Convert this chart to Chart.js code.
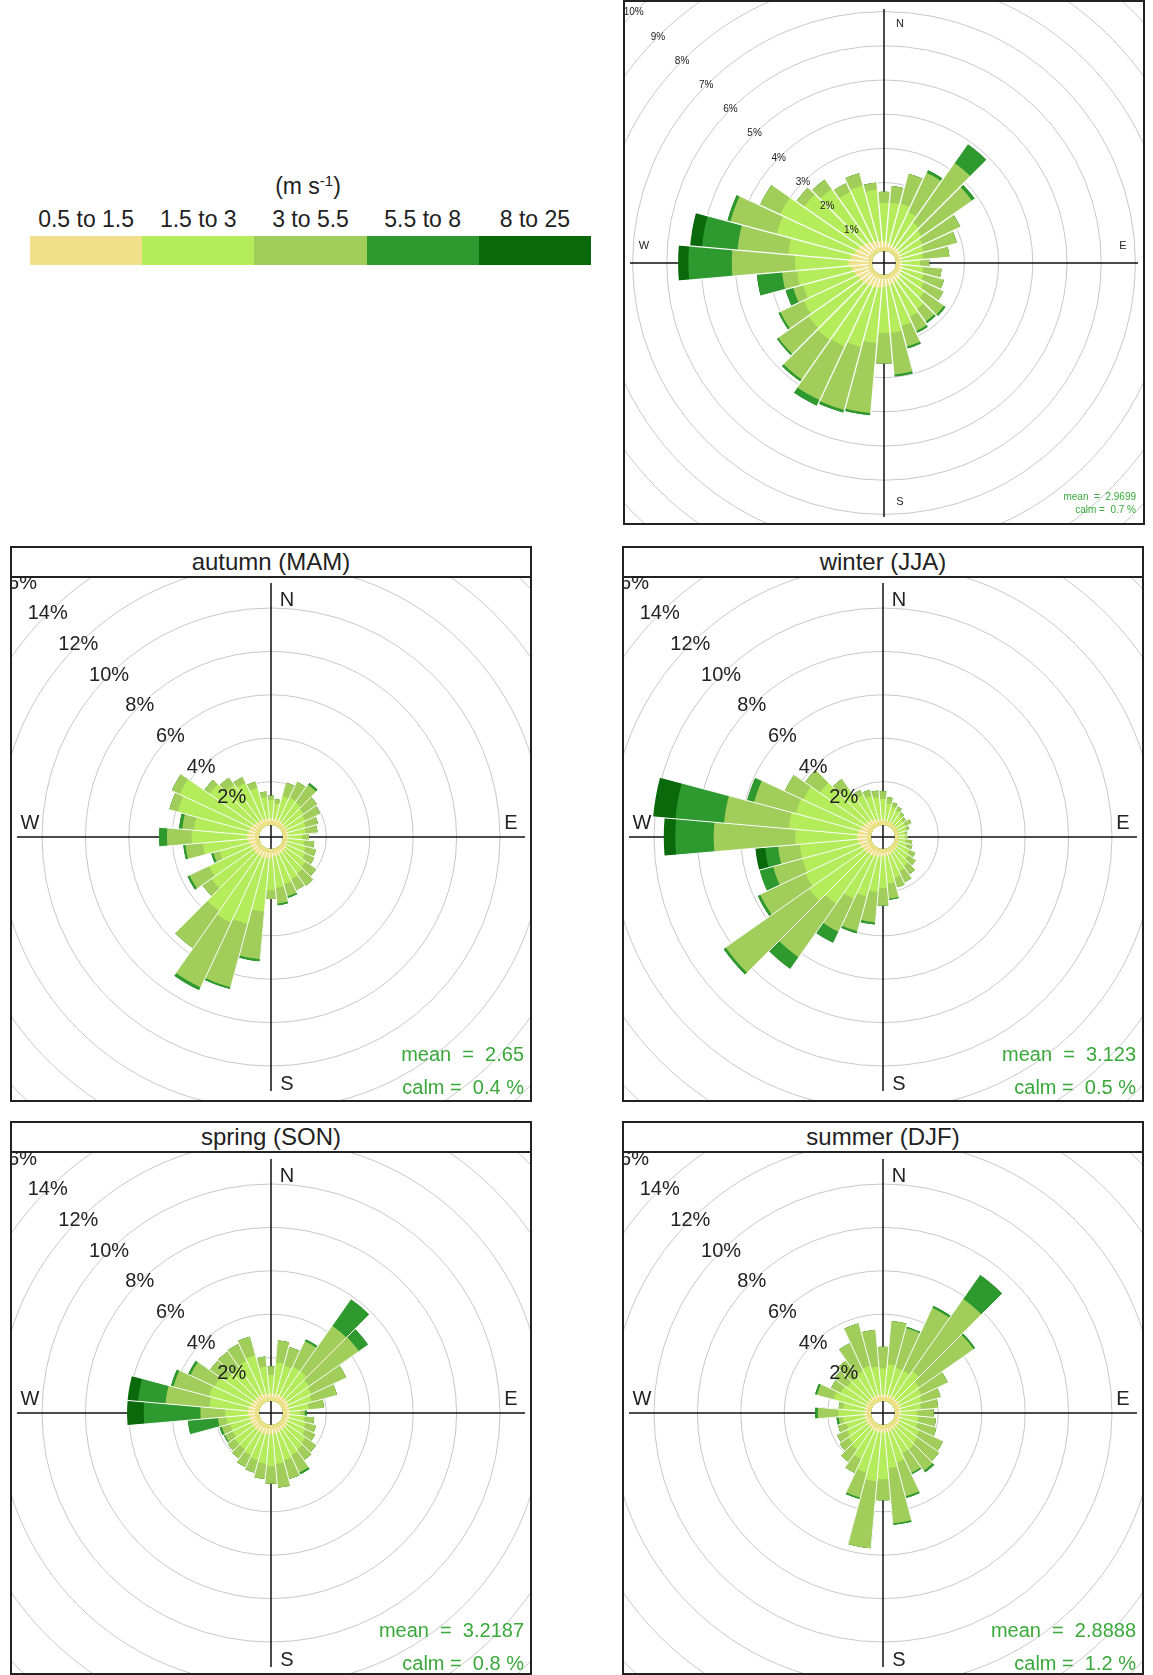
<!DOCTYPE html>
<html>
<head>
<meta charset="utf-8">
<title>Wind roses</title>
<script src="https://cdn.jsdelivr.net/npm/chart.js@4.4.1/dist/chart.umd.min.js"></script>
<style>
  body { margin: 0; width: 1153px; height: 1675px; overflow: hidden; background: #fff;
         font-family: "Liberation Sans", Arial, sans-serif; color: #222; position: relative; }
  .panel { position: absolute; box-sizing: border-box; border: 2px solid #222; background: #fff; }
  .ptitle { position: absolute; left: 0; top: 0; right: 0; box-sizing: border-box;
            border-bottom: 2px solid #222; text-align: center; font-size: 24px; }
  .plot { position: absolute; left: 0; overflow: hidden; }
  .plot canvas { position: absolute; }
  #legTitle { position: absolute; font-size: 23px; transform: translate(-50%, -50%); white-space: nowrap; }
  #legTitle sup { font-size: 15px; }
  .legLab { position: absolute; font-size: 23px; transform: translate(-50%, -50%); white-space: nowrap; }
  .legBox { position: absolute; }
</style>
</head>
<body>
<script>
Chart.defaults.font.family = '"Liberation Sans", Arial, sans-serif';

// speed bins (m/s) and their colours
const speedBins = ["0.5 to 1.5", "1.5 to 3", "3 to 5.5", "5.5 to 8", "8 to 25"];
const speedColors = ["#F0E08A", "#B5EC5B", "#A1CD5B", "#2E992E", "#0A690A"];

// 36 direction sectors, degrees from north
const directions = [0, 10, 20, 30, 40, 50, 60, 70, 80, 90, 100, 110, 120, 130, 140, 150, 160, 170,
                    180, 190, 200, 210, 220, 230, 240, 250, 260, 270, 280, 290, 300, 310, 320, 330, 340, 350];

const annualRings = [1, 2, 3, 4, 5, 6, 7, 8, 9, 10];
const seasonRings = [2, 4, 6, 8, 10, 12, 14, 16];

const panelTitles = [null, "autumn (MAM)", "winter (JJA)", "spring (SON)", "summer (DJF)"];
const meanSpeeds = ["2.9699", "2.65", "3.123", "3.2187", "2.8888"];
const calmPct = ["0.7", "0.4", "0.5", "0.8", "1.2"];

// frequency (%) per speed bin, all data
const annual1 = [0.27,0.25,0.22,0.20,0.20,0.20,0.18,0.18,0.17,0.17,0.18,0.20,0.22,0.24,0.26,0.28,0.30,0.32,0.34,0.38,0.40,0.42,0.45,0.47,0.50,0.55,0.60,0.69,0.62,0.55,0.50,0.45,0.40,0.35,0.32,0.30];
const annual2 = [1.13,1.17,1.23,1.10,0.90,0.80,0.72,0.67,0.63,0.53,0.62,0.65,0.73,0.86,1.04,1.12,1.25,1.38,1.36,1.62,1.80,1.93,1.95,1.88,1.75,1.55,1.60,1.56,1.84,2.35,2.50,2.05,1.90,1.60,1.68,1.50];
const annual3 = [0.33,0.49,0.91,1.27,2.13,1.80,1.22,1.01,0.77,0.27,0.54,0.62,0.62,0.70,0.45,0.45,0.63,1.22,0.89,2.05,1.90,1.73,1.42,1.08,0.75,0.30,0.44,1.85,1.49,1.40,0.65,0.28,0.34,0.28,0.37,0.21];
const annual4 = [0,0,0,0.08,0.67,0.10,0,0,0,0,0,0,0,0.06,0.06,0.06,0.06,0.06,0,0.07,0.08,0.18,0.07,0.05,0.06,0.23,0.74,1.27,1.04,0.09,0,0,0,0,0,0];
const annual5 = [0,0,0,0,0,0,0,0,0,0,0,0,0,0,0,0,0,0,0,0,0,0,0,0,0,0,0,0.30,0.35,0,0,0,0,0,0,0];

// autumn (MAM)
const autumn1 = [0.30,0.30,0.30,0.30,0.25,0.25,0.25,0.25,0.25,0.20,0.20,0.25,0.25,0.30,0.30,0.30,0.35,0.35,0.40,0.45,0.45,0.45,0.45,0.45,0.45,0.45,0.50,0.55,0.50,0.50,0.45,0.40,0.35,0.35,0.30,0.30];
const autumn2 = [0.85,0.70,1.10,1.15,1.15,1.05,0.95,0.85,0.80,0.70,0.80,0.85,0.95,1.10,1.20,1.30,1.35,1.45,1.50,2.45,3.15,3.35,3.15,2.35,2.15,1.45,2.10,2.55,2.50,3.40,3.65,2.50,2.05,1.85,1.50,1.00];
const autumn3 = [0.20,0.20,0.65,0.80,1.00,0.75,0.75,0.60,0.55,0.30,0.45,0.50,0.45,0.60,0.70,0.55,0.58,0.72,0.40,2.20,3.02,3.30,2.10,0.50,1.00,0.30,0.80,1.14,0.55,0.40,0.40,0.30,0.40,0.30,0.30,0.25];
const autumn4 = [0,0,0,0,0.10,0,0,0,0,0,0,0,0,0,0,0,0.07,0.08,0,0.10,0.08,0.14,0,0,0.10,0.10,0.10,0.36,0.15,0,0,0,0,0,0,0];
const autumn5 = [0,0,0,0,0,0,0,0,0,0,0,0,0,0,0,0,0,0,0,0,0,0,0,0,0,0,0,0,0,0,0,0,0,0,0,0];

// winter (JJA)
const winter1 = [0.25,0.22,0.20,0.20,0.18,0.18,0.18,0.18,0.15,0.15,0.15,0.18,0.20,0.22,0.25,0.27,0.30,0.32,0.35,0.38,0.40,0.42,0.45,0.48,0.50,0.55,0.60,0.65,0.60,0.55,0.50,0.45,0.40,0.35,0.30,0.28];
const winter2 = [0.95,0.78,0.70,0.60,0.52,0.42,0.42,0.37,0.30,0.30,0.35,0.42,0.60,0.68,0.85,0.93,1.10,1.28,1.45,1.62,1.90,2.18,2.75,3.12,2.90,2.75,2.70,2.84,3.20,3.05,3.00,2.55,1.80,1.25,1.10,1.02];
const winter3 = [0.35,0.30,0.20,0.20,0.15,0.15,0.30,0.15,0.10,0.15,0.30,0.25,0.30,0.40,0.45,0.55,0.45,0.70,0.80,1.40,1.65,1.67,3.02,4.70,2.30,1.39,1.00,3.76,3.00,2.00,0.94,0.83,0.52,0.25,0.30,0.30];
const winter4 = [0,0,0,0,0,0,0,0,0,0,0,0,0,0,0,0,0,0.05,0,0.10,0.10,0.56,0.65,0.12,0.12,0.64,0.60,1.77,2.25,0.33,0,0,0,0,0,0];
const winter5 = [0,0,0,0,0,0,0,0,0,0,0,0,0,0,0,0,0,0,0,0,0,0,0,0,0,0,0.45,0.53,1.03,0,0,0,0,0,0,0];

// spring (SON)
const spring1 = [0.35,0.35,0.35,0.35,0.35,0.35,0.35,0.30,0.30,0.30,0.30,0.30,0.30,0.35,0.35,0.35,0.40,0.40,0.40,0.45,0.45,0.45,0.45,0.45,0.45,0.45,0.45,0.50,0.50,0.45,0.45,0.40,0.40,0.40,0.40,0.35];
const spring2 = [0.85,1.45,1.35,1.45,1.45,1.25,1.15,1.10,0.90,0.50,0.70,0.80,0.90,1.05,1.15,1.25,1.30,1.40,1.50,1.35,1.25,1.15,1.05,1.05,0.95,0.95,1.05,1.05,1.80,1.95,1.85,1.60,1.60,1.70,1.80,1.25];
const spring3 = [0.40,1.00,0.90,1.30,2.56,2.80,1.78,1.20,0.70,0.20,0.45,0.50,0.50,0.60,0.60,0.88,0.90,1.10,0.80,0.70,0.60,0.60,0.50,0.40,0.40,0.40,0.40,1.15,2.03,1.70,1.25,0.88,0.90,0.86,0.90,0.46];
const spring4 = [0,0,0,0.10,1.49,0.52,0,0,0,0.10,0,0,0,0,0,0.09,0,0,0,0,0,0,0,0,0.05,0.10,1.39,2.61,1.27,0.12,0.11,0,0,0,0,0];
const spring5 = [0,0,0,0,0,0,0,0,0,0,0,0,0,0,0,0,0,0,0,0,0,0,0,0,0,0,0,0.77,0.48,0,0,0,0,0,0,0];

// summer (DJF)
const summer1 = [0.30,0.30,0.30,0.30,0.30,0.30,0.30,0.30,0.30,0.25,0.25,0.25,0.30,0.30,0.30,0.30,0.35,0.35,0.35,0.35,0.35,0.35,0.30,0.30,0.30,0.30,0.30,0.30,0.30,0.30,0.30,0.30,0.30,0.30,0.30,0.30];
const summer2 = [1.20,1.40,1.30,1.30,1.50,1.20,1.10,1.00,0.90,0.75,0.85,0.85,1.00,1.10,1.20,1.20,1.45,1.65,2.15,2.25,1.95,1.45,1.20,1.10,1.00,0.90,1.00,1.20,1.00,1.50,1.30,1.20,1.20,1.30,1.40,1.30];
const summer3 = [1.00,2.00,1.90,3.20,4.07,3.05,1.35,0.90,0.80,0.78,0.80,0.90,1.20,1.20,1.20,1.00,1.62,2.55,0.97,3.10,1.18,0.70,0.70,0.50,0.50,0.40,0.20,0.95,0.20,0.80,0.50,0.70,0.90,1.40,2.03,1.70];
const summer4 = [0,0,0.06,0.10,1.35,0.09,0,0,0,0,0,0,0,0,0.10,0.06,0.08,0.07,0,0,0.07,0,0,0,0,0,0.10,0.12,0,0.09,0,0,0,0,0,0];
const summer5 = [0,0,0,0,0,0,0,0,0,0,0,0,0,0,0,0,0,0,0,0,0,0,0,0,0,0,0,0,0,0,0,0,0,0,0,0];

// ---- legend ----
const legend = document.createElement("div");
document.body.appendChild(legend);
const legTitle = document.createElement("div");
legTitle.id = "legTitle";
legTitle.innerHTML = "(m s<sup>-1</sup>)";
legTitle.style.left = "308px";
legTitle.style.top = "186px";
legend.appendChild(legTitle);
const barX = 30, barY = 236, barW = 561, barH = 29;
speedBins.forEach((lab, i) => {
  const w = barW / speedBins.length;
  const box = document.createElement("div");
  box.className = "legBox";
  Object.assign(box.style, { left: (barX + i * w) + "px", top: barY + "px", width: (w + 0.5) + "px",
                             height: barH + "px", background: speedColors[i] });
  legend.appendChild(box);
  const t = document.createElement("div");
  t.className = "legLab";
  t.textContent = lab;
  t.style.left = (barX + (i + 0.5) * w) + "px";
  t.style.top = "219px";
  legend.appendChild(t);
});

// ---- rose decoration plugin: axes, sector gaps, % labels, compass, stats ----
const rosePlugin = {
  id: "rose",
  afterDatasetsUpdate(chart) {
    const r0 = chart.scales.r.getDistanceFromCenterForValue(0);
    chart.data.datasets.forEach((ds, i) => {
      chart.getDatasetMeta(i).data.forEach(arc => { arc.innerRadius = r0; });
    });
  },
  beforeDatasetsDraw(chart, args, o) {
    const ctx = chart.ctx, s = chart.scales.r;
    ctx.save();
    ctx.strokeStyle = "#111";
    ctx.lineWidth = o.axisWidth;
    ctx.beginPath();
    ctx.moveTo(s.xCenter - o.axisLen, s.yCenter);
    ctx.lineTo(s.xCenter + o.axisLen, s.yCenter);
    ctx.moveTo(s.xCenter, s.yCenter - o.axisLen);
    ctx.lineTo(s.xCenter, s.yCenter + o.axisLen);
    ctx.stroke();
    ctx.restore();
  },
  afterDatasetsDraw(chart, args, o) {
    const ctx = chart.ctx, s = chart.scales.r;
    const cx = s.xCenter, cy = s.yCenter;
    const r0 = s.getDistanceFromCenterForValue(0);
    const outer = chart.getDatasetMeta(chart.data.datasets.length - 1).data;
    ctx.save();
    // white gaps between sectors
    ctx.strokeStyle = "#fff";
    ctx.lineWidth = o.gapWidth;
    outer.forEach((arc, j) => {
      const prev = outer[(j + outer.length - 1) % outer.length];
      const len = Math.max(arc.outerRadius, prev.outerRadius) + 1;
      const a = arc.startAngle;
      ctx.beginPath();
      ctx.moveTo(cx + Math.cos(a) * (r0 + 4), cy + Math.sin(a) * (r0 + 4));
      ctx.lineTo(cx + Math.cos(a) * len, cy + Math.sin(a) * len);
      ctx.stroke();
    });
    // percentage labels along the NW diagonal
    ctx.fillStyle = "#222";
    ctx.textAlign = "center";
    ctx.textBaseline = "middle";
    ctx.font = o.ringFont;
    o.rings.forEach(v => {
      const d = s.getDistanceFromCenterForValue(v) * Math.SQRT1_2;
      ctx.fillText(v + "%", cx - d, cy - d);
    });
    // compass letters
    ctx.font = o.compassFont;
    o.compass.forEach(c => ctx.fillText(c[0], cx + c[1], cy + c[2]));
    // mean / calm
    ctx.fillStyle = "#3AA83A";
    ctx.textAlign = "right";
    ctx.textBaseline = "alphabetic";
    ctx.font = o.statFont;
    ctx.fillText(o.mean, cx + o.statX, cy + o.meanY);
    ctx.fillText(o.calm, cx + o.statX, cy + o.calmY);
    ctx.restore();
  }
};

function drawRose(p) {
  const panel = document.createElement("div");
  panel.className = "panel";
  Object.assign(panel.style, { left: p.box[0] + "px", top: p.box[1] + "px",
                               width: p.box[2] + "px", height: p.box[3] + "px" });
  document.body.appendChild(panel);
  if (p.title) {
    const t = document.createElement("div");
    t.className = "ptitle";
    t.textContent = p.title;
    t.style.height = p.titleH + "px";
    t.style.lineHeight = (p.titleH - 2) + "px";
    panel.appendChild(t);
  }
  const plot = document.createElement("div");
  plot.className = "plot";
  plot.style.top = p.titleH + "px";
  plot.style.width = (p.box[2] - 4) + "px";
  plot.style.height = (p.box[3] - 4 - p.titleH) + "px";
  panel.appendChild(plot);

  const half = 390, r0 = 12;
  const canvas = document.createElement("canvas");
  canvas.width = 2 * half;
  canvas.height = 2 * half;
  canvas.style.width = 2 * half + "px";
  canvas.style.height = 2 * half + "px";
  canvas.style.left = (p.center[0] - p.box[0] - 2 - half) + "px";
  canvas.style.top = (p.center[1] - p.box[1] - 2 - p.titleH - half) + "px";
  plot.appendChild(canvas);

  // stack the speed bins: each dataset reaches the cumulative total of its bin
  let run = directions.map(() => 0);
  const datasets = p.bands.map((b, i) => {
    run = run.map((v, j) => v + b[j]);
    return { label: speedBins[i], data: run, backgroundColor: speedColors[i], borderWidth: 0 };
  });

  new Chart(canvas, {
    type: "polarArea",
    data: { labels: directions, datasets: datasets },
    options: {
      responsive: false,
      animation: false,
      events: [],
      devicePixelRatio: 1,
      layout: { padding: 0, autoPadding: false },
      plugins: {
        legend: { display: false },
        tooltip: { enabled: false },
        rose: {
          axisLen: 254, axisWidth: 1.5, gapWidth: p.gap,
          rings: p.rings, ringFont: p.ringFont, compassFont: p.compassFont, compass: p.compass,
          statFont: p.statFont, statX: p.statX, meanY: p.meanY, calmY: p.calmY,
          mean: "mean  =  " + p.mean, calm: "calm =  " + p.calm + " %"
        }
      },
      scales: {
        r: {
          startAngle: -5,
          min: -r0 / p.k,
          max: (half - r0) / p.k,
          ticks: { display: false },
          afterBuildTicks: s => { s.ticks = p.rings.map(v => ({ value: v })); },
          grid: { color: "#c8c8c8", lineWidth: 1, circular: true },
          angleLines: { display: false },
          pointLabels: { display: false }
        }
      }
    },
    plugins: [rosePlugin]
  });
}

const font = px => px + 'px "Liberation Sans", Arial, sans-serif';
const seasonCompass = [["N", 16, -237], ["E", 240, -14], ["S", 16, 247], ["W", -241, -14]];
const season = (i, box, center, bands) => ({
  box: box, titleH: 30, center: center, k: 21.7, rings: seasonRings, bands: bands, gap: 1.0,
  title: panelTitles[i], ringFont: font(20), compassFont: font(20), compass: seasonCompass,
  statFont: font(20), statX: 253, meanY: 224, calmY: 257, mean: meanSpeeds[i], calm: calmPct[i]
});

drawRose({
  box: [623, 0, 522, 525], titleH: 0, center: [884, 263], k: 34.2, rings: annualRings, gap: 1.3,
  bands: [annual1, annual2, annual3, annual4, annual5], title: null,
  ringFont: font(10), compassFont: font(11),
  compass: [["N", 16, -239], ["E", 239, -17], ["S", 16, 239], ["W", -240, -17]],
  statFont: font(10), statX: 252, meanY: 237, calmY: 250, mean: meanSpeeds[0], calm: calmPct[0]
});
drawRose(season(1, [10, 546, 522, 556], [271, 837], [autumn1, autumn2, autumn3, autumn4, autumn5]));
drawRose(season(2, [622, 546, 522, 556], [883, 837], [winter1, winter2, winter3, winter4, winter5]));
drawRose(season(3, [10, 1121, 522, 554], [271, 1413], [spring1, spring2, spring3, spring4, spring5]));
drawRose(season(4, [622, 1121, 522, 554], [883, 1413], [summer1, summer2, summer3, summer4, summer5]));
</script>
</body>
</html>
